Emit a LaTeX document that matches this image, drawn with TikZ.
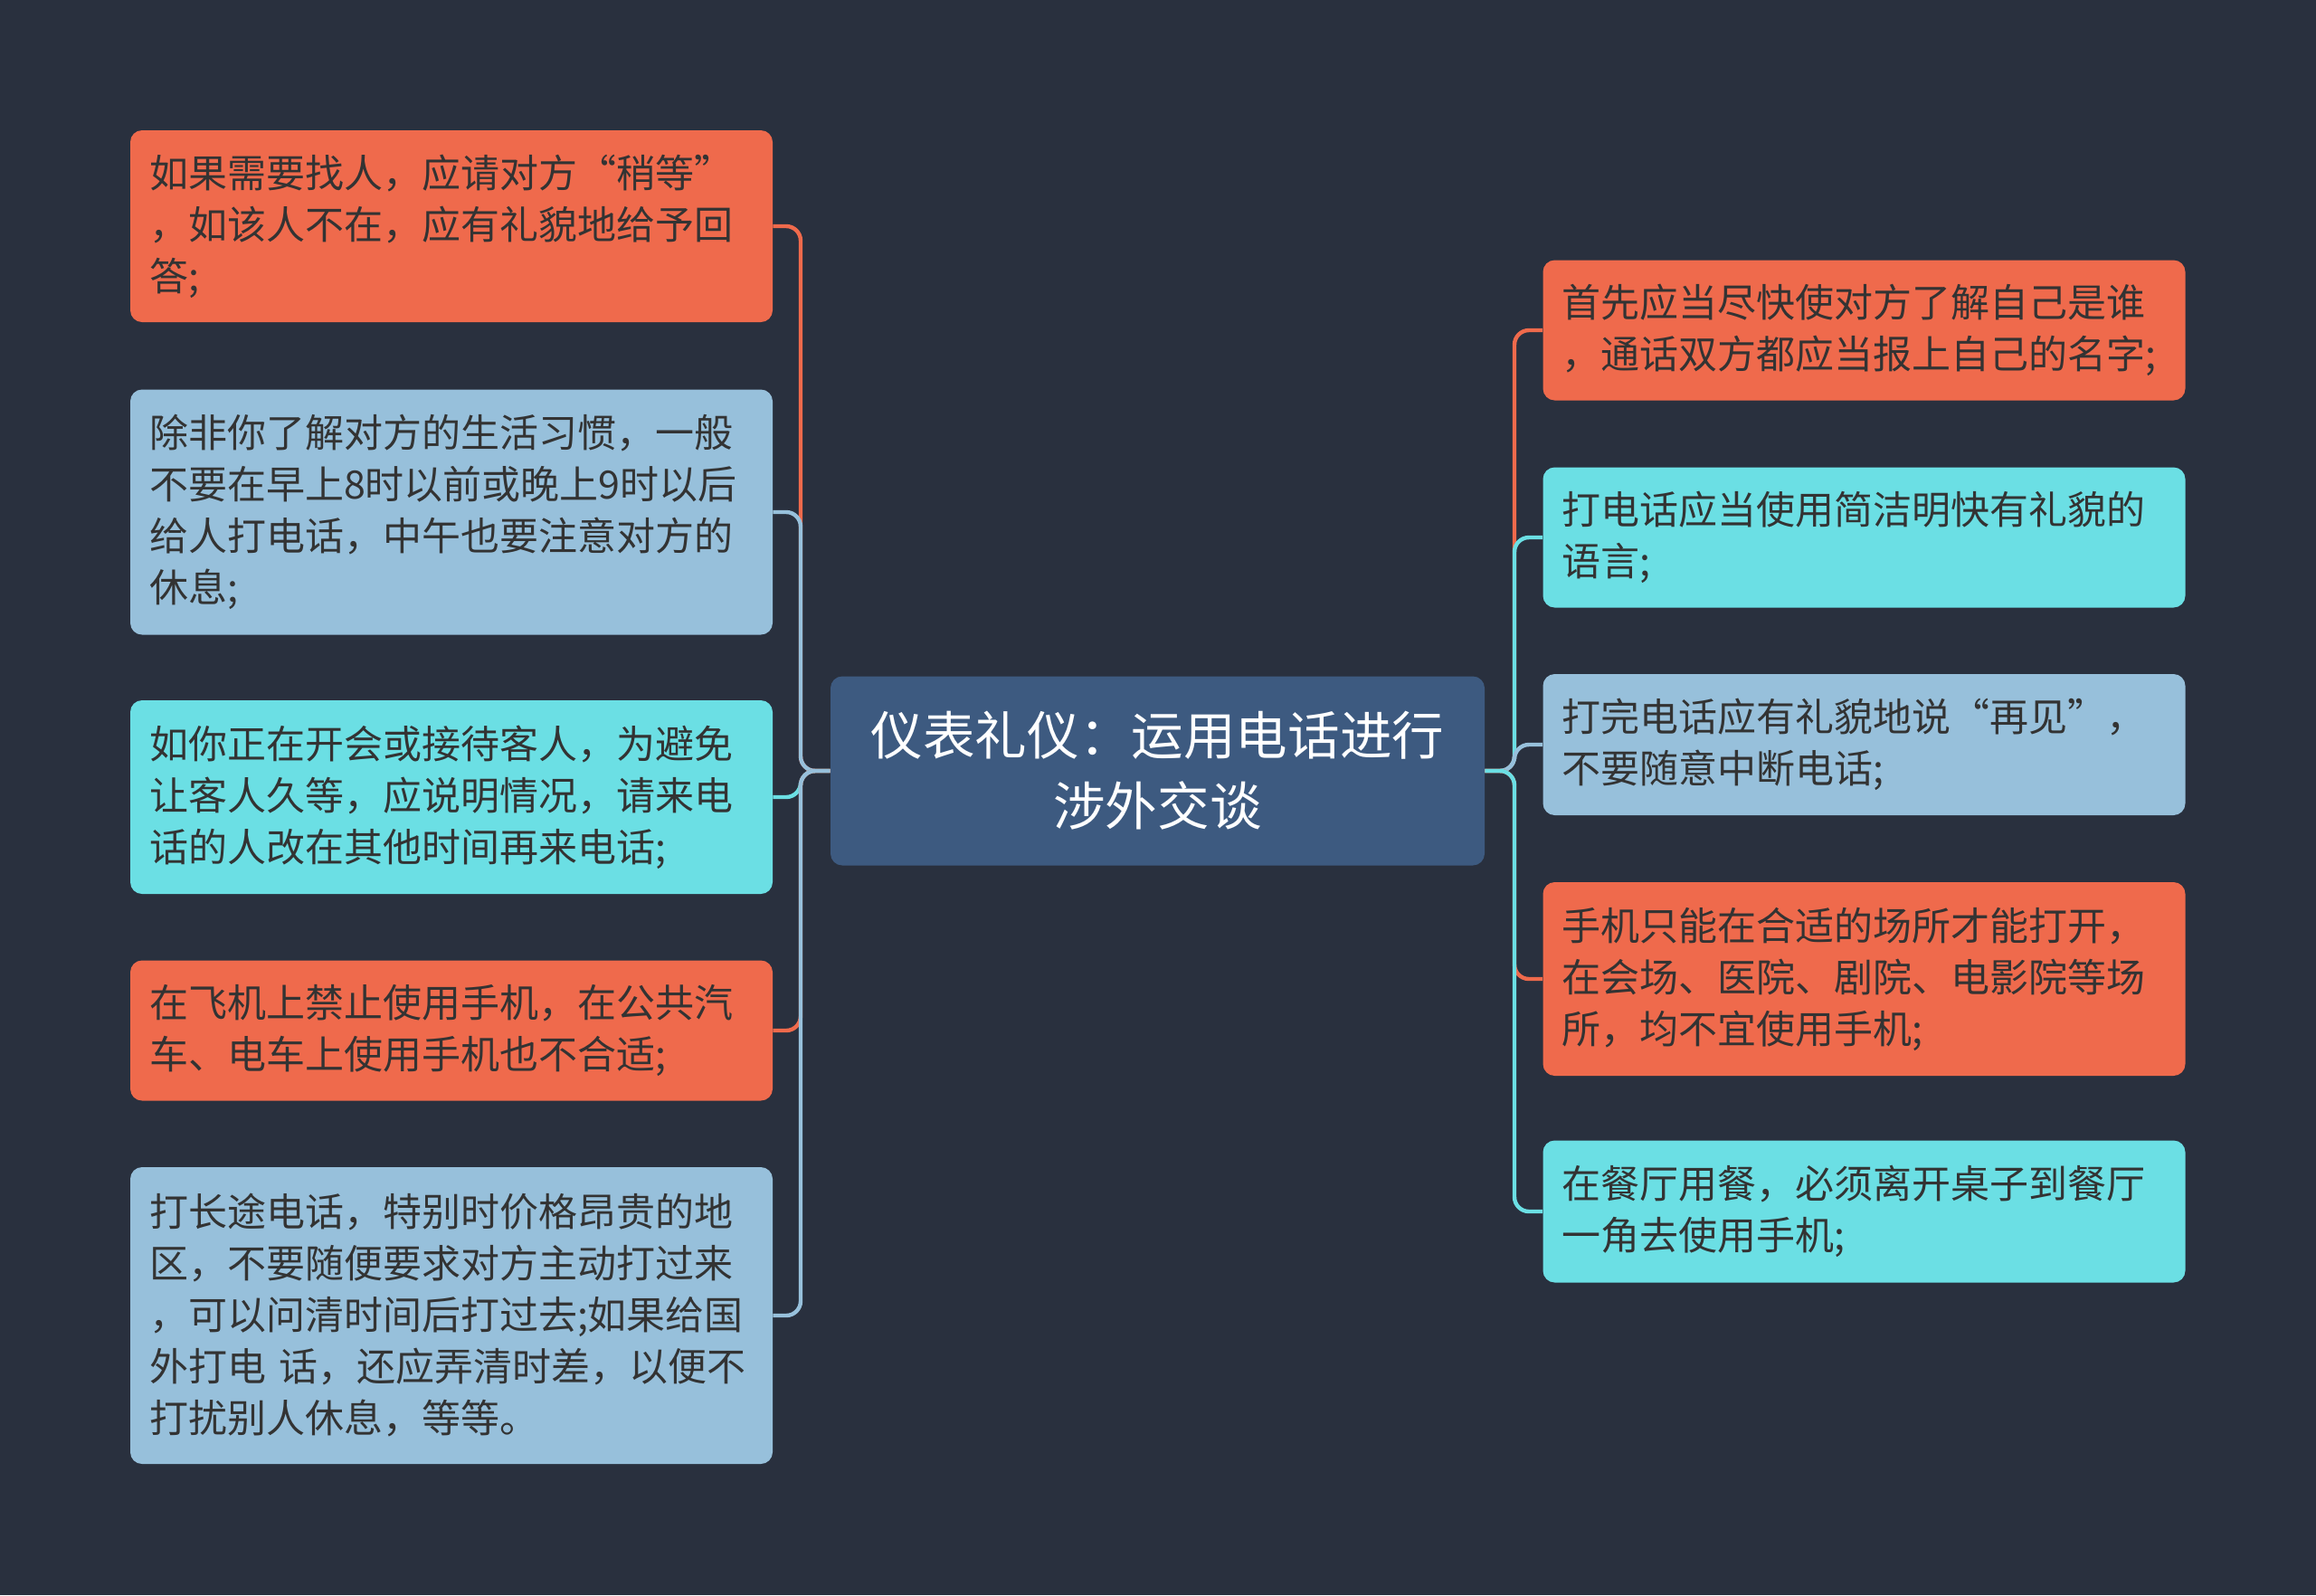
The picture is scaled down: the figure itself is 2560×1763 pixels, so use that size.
\documentclass[tikz,border=0pt]{standalone}
\usepackage{fontspec}
\setmainfont{Noto Sans CJK SC}
\usetikzlibrary{positioning}
\definecolor{mBg}{HTML}{29303E}
\definecolor{mOrange}{HTML}{EF6A4C}
\definecolor{mSky}{HTML}{97C0DB}
\definecolor{mCyan}{HTML}{6BDFE4}
\definecolor{mNavy}{HTML}{3D5A80}
\definecolor{mInk}{HTML}{333333}
\tikzset{
  topic/.style={rounded corners=6.5pt, text width=334pt, inner xsep=10.5pt, inner ysep=0pt, align=left, text=mInk, font=\fontsize{21.5pt}{28.5pt}\selectfont},
  hub/.style={rounded corners=6.5pt, fill=mNavy, minimum width=361.5pt, minimum height=104.5pt, align=center, text=white, font=\fontsize{28.8pt}{39pt}\selectfont},
  link/.style={line width=2.2pt, rounded corners=8pt},
}

\begin{document}
\begin{tikzpicture}[x=0.5pt, y=-0.5pt]
    \fill[mBg] (0,0) rectangle (2560,1763);
    \useasboundingbox (0,0) rectangle (2560,1763);

    \node[hub] (hub) at (1279.5,852) {仪表礼仪：运用电话进行\\涉外交谈};
    \coordinate (ltrunk) at (885,852);
    \coordinate (rtrunk) at (1674,852);

    \node[topic, fill=mOrange, minimum height=106pt] (l1) at (499,250) {如果需要找人，应请对方“稍等”\\，如该人不在，应有礼貌地给予回\\答;};
    \node[topic, fill=mSky, minimum height=135.5pt] (l2) at (499,566) {除非你了解对方的生活习惯，一般\\不要在早上8时以前或晚上9时以后\\给人打电话，中午也要注意对方的\\休息;};
    \node[topic, fill=mCyan, minimum height=107pt] (l3) at (499,881) {如你正在开会或接待客人，为避免\\让客人久等，应说明情况，请来电\\话的人改在其他时间再来电话;};
    \node[topic, fill=mOrange, minimum height=77.5pt] (l4) at (499,1139) {在飞机上禁止使用手机，在公共汽\\车、电车上使用手机也不合适;};
    \node[topic, fill=mSky, minimum height=164pt] (l5) at (499,1454) {打长途电话，特别时价格昂贵的地\\区，不要随便要求对方主动打过来\\，可以问清时间后打过去;如果给国\\外打电 话，还应弄清时差，以便不\\打扰别人休息，等等。};

    \node[topic, fill=mOrange, minimum height=77.5pt] (r1) at (2060.5,365) {首先应当尽快使对方了解自己是谁\\，通话双方都应当报上自己的名字;};
    \node[topic, fill=mCyan, minimum height=77.5pt] (r2) at (2060.5,594) {打电话应当使用简洁明快有礼貌的\\语言;};
    \node[topic, fill=mSky, minimum height=78pt] (r3) at (2060.5,823) {打完电话应有礼貌地说“再见”，\\不要随意中断电话;};
    \node[topic, fill=mOrange, minimum height=107pt] (r4) at (2060.5,1082) {手机只能在合适的场所才能打开，\\在会场、医院、剧院、电影院等场\\所，均不宜使用手机;};
    \node[topic, fill=mCyan, minimum height=78.5pt] (r5) at (2060.5,1339) {在餐厅用餐，必须离开桌子到餐厅\\一角去使用手机;};

    \draw[link, mOrange] (hub.west) -- (ltrunk) |- (l1.east);
    \draw[link, mSky] (hub.west) -- (ltrunk) |- (l2.east);
    \draw[link, mCyan] (hub.west) -- (ltrunk) |- (l3.east);
    \draw[link, mOrange] (hub.west) -- (ltrunk) |- (l4.east);
    \draw[link, mSky] (hub.west) -- (ltrunk) |- (l5.east);

    \draw[link, mOrange] (hub.east) -- (rtrunk) |- (r1.west);
    \draw[link, mCyan] (hub.east) -- (rtrunk) |- (r2.west);
    \draw[link, mSky] (hub.east) -- (rtrunk) |- (r3.west);
    \draw[link, mOrange] (hub.east) -- (rtrunk) |- (r4.west);
    \draw[link, mCyan] (hub.east) -- (rtrunk) |- (r5.west);
\end{tikzpicture}
\end{document}
